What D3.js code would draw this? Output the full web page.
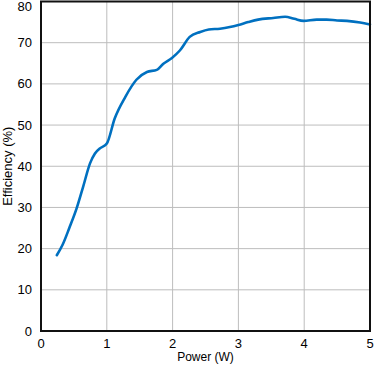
<!DOCTYPE html>
<html><head><meta charset="utf-8">
<script src="https://cdn.jsdelivr.net/npm/d3@7"></script>
<style>body{margin:0;background:#fff}svg{display:block}text{font-family:"Liberation Sans",Arial,sans-serif;fill:#000}</style>
</head><body>
<script>
const power = [0.24,0.33,0.43,0.54,0.64,0.745,0.82,0.9,1.0,1.12,1.28,1.45,1.61,1.76,1.86,1.99,2.11,2.26,2.42,2.55,2.72,2.87,3.0,3.15,3.3,3.53,3.71,3.85,3.99,4.19,4.34,4.5,4.65,4.85,5.0];
const efficiency = [18.4,21.0,25.0,29.7,35.0,40.7,43.1,44.4,45.5,51.6,56.8,61.0,62.9,63.4,64.9,66.3,68.1,71.4,72.6,73.2,73.4,73.8,74.3,75.0,75.6,76.0,76.3,75.8,75.3,75.6,75.6,75.4,75.3,74.9,74.4];
const xTicks = [0,1,2,3,4,5];
const yTicks = [0,10,20,30,40,50,60,70,80];
const xTitle = "Power (W)", yTitle = "Efficiency (%)";

const W=374,H=365,L=41,R=370,T=1.5,B=331;
const svg=d3.select("body").append("svg").attr("width",W).attr("height",H);
const x=d3.scaleLinear().domain([0,5]).range([L,R]);
const y=d3.scaleLinear().domain([0,80]).range([B,T]);

svg.append("g").selectAll("line").data(xTicks.slice(1,-1)).join("line")
 .attr("x1",d=>x(d)).attr("x2",d=>x(d)).attr("y1",T).attr("y2",B).attr("stroke","#bdbdbd").attr("stroke-width",1);
svg.append("g").selectAll("line").data(yTicks.slice(1,-1)).join("line")
 .attr("y1",d=>y(d)).attr("y2",d=>y(d)).attr("x1",L).attr("x2",R).attr("stroke","#bdbdbd").attr("stroke-width",1);

svg.append("path").datum(power.map((p,i)=>[p,efficiency[i]]))
 .attr("d",d3.line().x(d=>x(d[0])).y(d=>y(d[1])).curve(d3.curveMonotoneX))
 .attr("fill","none").attr("stroke","#0070c0").attr("stroke-width",2.6).attr("stroke-linejoin","round").attr("stroke-linecap","round");

svg.append("rect").attr("x",L).attr("y",T).attr("width",R-L).attr("height",B-T)
 .attr("fill","none").attr("stroke","#111").attr("stroke-width",2);

svg.append("g").selectAll("text").data(yTicks).join("text")
 .attr("x",32).attr("y",d=>Math.max(y(d),6)).attr("dy","0.35em").attr("text-anchor","end").attr("font-size",13).text(d=>d);
svg.append("g").selectAll("text").data(xTicks).join("text")
 .attr("x",d=>x(d)).attr("y",348).attr("text-anchor","middle").attr("font-size",13).text(d=>d);

svg.append("text").attr("x",(L+R)/2).attr("y",361).attr("text-anchor","middle").attr("font-size",12).text(xTitle);
svg.append("text").attr("transform",`translate(11.5,${(T+B)/2}) rotate(-90)`).attr("text-anchor","middle").attr("font-size",13).text(yTitle);
</script>
</body></html>
